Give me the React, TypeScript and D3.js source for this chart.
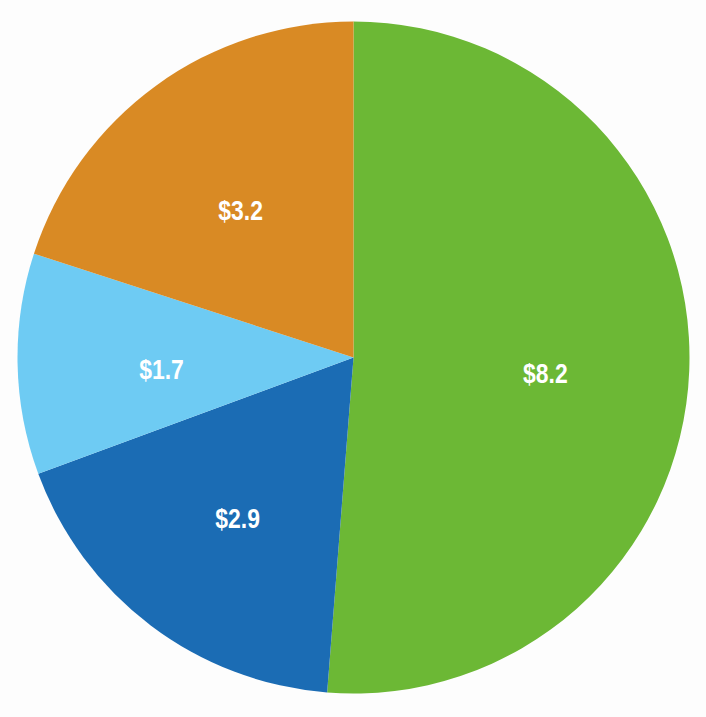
import React from "react";
import * as d3 from "d3";

const categories = ["A", "B", "C", "D"];
const values = [8.2, 2.9, 1.7, 3.2];
const labels = ["$8.2", "$2.9", "$1.7", "$3.2"];
const colors = ["#6cb835", "#1b6cb4", "#6ecbf3", "#d98a24"];

export default function App() {
  const width = 706;
  const height = 717;
  const cx = 353.5;
  const cy = 357.5;
  const r = 336;
  const pie = d3.pie<number>().sort(null).value((d) => d)(values);
  const arc = d3.arc<d3.PieArcDatum<number>>().innerRadius(0).outerRadius(r);
  const labelArc = d3.arc<d3.PieArcDatum<number>>().innerRadius(192).outerRadius(192);
  return (
    <svg width={width} height={height} style={{ position: "absolute", left: 0, top: 0, background: "#fdfdfd" }}>
      <g transform={`translate(${cx},${cy})`}>
        {pie.map((p, i) => (
          <path key={categories[i]} d={arc(p) || ""} fill={colors[i]} />
        ))}
        {pie.map((p, i) => {
          const [x, y] = labelArc.centroid(p);
          return (
            <text
              key={"l" + categories[i]}
              transform={`translate(${x},${y + 8}) scale(0.85,1)`}
              textAnchor="middle"
              dominantBaseline="central"
              fill="#ffffff"
              fontFamily="'Liberation Sans', Arial, sans-serif"
              fontWeight="bold"
              fontSize={27}
            >
              {labels[i]}
            </text>
          );
        })}
      </g>
    </svg>
  );
}
